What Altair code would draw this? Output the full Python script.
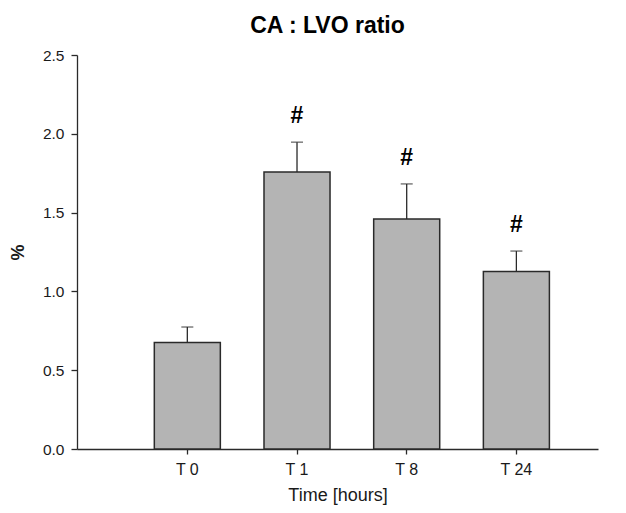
import altair as alt
import pandas as pd

categories = ["T 0", "T 1", "T 8", "T 24"]
means = [0.676, 1.758, 1.460, 1.126]
sem = [0.098, 0.189, 0.222, 0.130]
marks = ["", "#", "#", "#"]

df = pd.DataFrame({
    "time": categories,
    "mean": means,
    "upper": [m + s for m, s in zip(means, sem)],
    "mark": marks,
})

FONT = "Liberation Sans"

x = alt.X("time:N", sort=categories,
          scale=alt.Scale(paddingInner=0.398, paddingOuter=0.574, align=0.614),
          axis=alt.Axis(title="Time [hours]", labelAngle=0, labelFontSize=16,
                        labelPadding=7, tickSize=5, titleFontSize=18,
                        titleFontWeight="normal", titleY=51,
                        titleBaseline="alphabetic"))
yscale = alt.Scale(domain=[0, 2.5], nice=False)
yaxis = alt.Axis(title="%", values=[0, 0.5, 1.0, 1.5, 2.0, 2.5], format=".1f",
                 labelFontSize=15.5, labelPadding=7, tickSize=6, titleFontSize=18,
                 titleFontWeight="bold", titleX=-59, titleY=197,
                 titleBaseline="middle", titleAngle=-90, grid=False)

base = alt.Chart(df)

bars = base.mark_bar(fill="#b4b4b4", stroke="#2a2a2a", strokeWidth=1.5).encode(
    x=x, y=alt.Y("mean:Q", scale=yscale, axis=yaxis))

rule = base.mark_rule(color="#2a2a2a", strokeWidth=1.3).encode(
    x=alt.X("time:N", sort=categories), y="mean:Q", y2="upper:Q")

cap = base.mark_tick(color="#2a2a2a", size=12, thickness=1.3).encode(
    x=alt.X("time:N", sort=categories), y="upper:Q")

txt = base.mark_text(font=FONT, fontSize=23, fontWeight="bold", dy=-26,
                     baseline="middle", color="black").encode(
    x=alt.X("time:N", sort=categories), y="upper:Q", text="mark:N")

chart = alt.layer(bars, rule, cap, txt).properties(
    width=521, height=394,
    title=alt.TitleParams("CA : LVO ratio", fontSize=23, fontWeight="bold",
                          font=FONT, color="black", baseline="alphabetic",
                          offset=10, dy=18, dx=-10, frame="group", anchor="middle"),
    autosize=alt.AutoSizeParams(type="none"),
    padding={"left": 69, "top": 47, "right": 20, "bottom": 56},
).configure_view(stroke=None).configure_axis(
    labelFont=FONT, titleFont=FONT, labelColor="#1a1a1a", titleColor="#1a1a1a",
    domainColor="#2a2a2a", tickColor="#2a2a2a", domainWidth=1.3, tickWidth=1.3,
)

chart.save("out.html", embed_options={"renderer": "svg", "actions": False})
